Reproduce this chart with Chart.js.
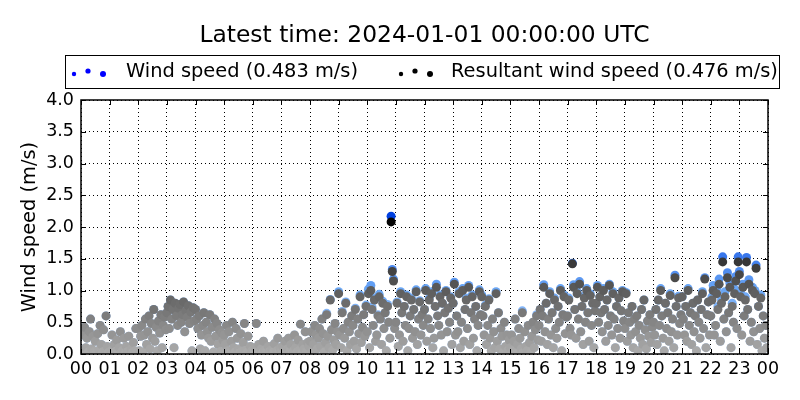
<!DOCTYPE html>
<html>
<head>
<meta charset="utf-8">
<script src="https://cdn.jsdelivr.net/npm/chart.js@4/dist/chart.umd.min.js"></script>
<style>
  html, body { margin: 0; padding: 0; background: #fff; }
  canvas { display: block; }
</style>
</head>
<body>
<canvas id="chart" width="800" height="400"></canvas>
<script>
// ---- DATA ----
var TITLE_TEXT = "Latest time: 2024-01-01 00:00:00 UTC";
var SERIES_NAMES = ["Wind speed", "Resultant wind speed"];
var SERIES_MEANS = [0.483, 0.476];
var HOUR_LABELS = ["00","01","02","03","04","05","06","07","08","09","10","11",
                   "12","13","14","15","16","17","18","19","20","21","22","23","00"];
var Y_LABEL = "Wind speed (m/s)";

// one row per hour, readings every 2.5 minutes (m/s)
var RESULTANT = [
  [0.05,0.30,0.02,0.42,0.10,0.25,0.03,0.35,0.55,0.08,0.28,0.04,0.20,0.02,0.32,0.06,0.45,0.15,0.03,0.38,0.05,0.60,0.12,0.02],
  [0.03,0.05,0.30,0.02,0.15,0.04,0.22,0.02,0.10,0.35,0.03,0.06,0.25,0.02,0.12,0.04,0.28,0.03,0.08,0.02,0.18,0.05,0.40,0.03],
  [0.40,0.05,0.28,0.45,0.03,0.30,0.55,0.15,0.35,0.60,0.08,0.48,0.25,0.70,0.20,0.42,0.05,0.52,0.33,0.62,0.10,0.45,0.58,0.38],
  [0.65,0.75,0.40,0.85,0.55,0.70,0.10,0.80,0.60,0.45,0.72,0.78,0.50,0.62,0.82,0.35,0.68,0.58,0.76,0.48,0.66,0.05,0.73,0.52],
  [0.70,0.55,0.40,0.60,0.08,0.30,0.45,0.65,0.05,0.50,0.35,0.25,0.62,0.20,0.42,0.03,0.55,0.28,0.48,0.15,0.38,0.04,0.33,0.22],
  [0.30,0.15,0.45,0.05,0.35,0.02,0.20,0.50,0.10,0.03,0.40,0.25,0.08,0.02,0.32,0.04,0.18,0.48,0.06,0.02,0.28,0.03,0.12,0.05],
  [0.05,0.02,0.10,0.48,0.04,0.15,0.03,0.08,0.02,0.20,0.06,0.03,0.02,0.12,0.04,0.02,0.07,0.03,0.16,0.02,0.05,0.25,0.03,0.09],
  [0.05,0.12,0.02,0.20,0.03,0.08,0.25,0.04,0.15,0.02,0.05,0.30,0.10,0.03,0.22,0.06,0.47,0.02,0.15,0.08,0.35,0.04,0.18,0.12],
  [0.20,0.35,0.05,0.15,0.45,0.30,0.08,0.25,0.40,0.12,0.55,0.32,0.03,0.18,0.62,0.28,0.10,0.85,0.38,0.06,0.22,0.48,0.15,0.35],
  [0.95,0.30,0.10,0.65,0.40,0.25,0.80,0.05,0.50,0.35,0.15,0.60,0.45,0.20,0.70,0.08,0.55,0.32,0.90,0.18,0.42,0.62,0.28,0.75],
  [0.35,0.95,0.10,1.00,0.70,0.45,0.85,0.20,0.30,0.60,0.90,0.55,0.15,0.80,0.40,0.65,0.05,0.75,0.50,0.25,2.08,1.30,1.15,0.40],
  [0.50,0.80,0.12,0.30,0.95,0.65,0.20,0.75,0.45,0.90,0.05,0.40,0.60,0.85,0.25,0.70,0.35,0.98,0.15,0.55,0.82,0.30,0.62,0.45],
  [0.70,1.00,0.20,0.55,0.85,0.40,0.95,0.10,0.25,0.75,1.05,0.60,0.45,0.90,0.30,0.80,0.05,0.65,0.98,0.35,0.72,0.50,0.88,0.15],
  [0.80,1.10,0.30,0.60,0.35,0.95,0.10,0.50,1.00,0.20,0.70,0.85,0.40,1.05,0.15,0.65,0.90,0.25,0.55,0.75,0.05,0.45,0.98,0.62],
  [0.90,0.60,0.30,0.75,0.15,0.45,0.85,0.25,0.05,0.55,0.35,0.10,0.95,0.20,0.65,0.08,0.40,0.28,0.03,0.50,0.12,0.30,0.06,0.22],
  [0.10,0.30,0.05,0.20,0.55,0.02,0.15,0.40,0.25,0.08,0.65,0.03,0.35,0.12,0.05,0.45,0.18,0.02,0.28,0.50,0.10,0.38,0.60,0.22],
  [0.45,0.70,0.20,0.60,1.05,0.35,0.80,0.15,0.55,0.95,0.30,0.65,0.10,0.85,0.40,0.25,0.75,0.50,1.00,0.05,0.62,0.90,0.32,0.58],
  [0.60,0.85,0.40,0.30,1.42,1.05,0.70,0.25,0.95,0.55,1.10,0.35,0.75,0.15,0.88,0.50,1.00,0.65,0.20,0.92,0.45,0.80,0.10,0.68],
  [0.80,1.05,0.50,0.90,0.65,0.35,1.00,0.70,0.20,0.85,0.45,1.08,0.60,0.30,0.95,0.55,0.10,0.75,0.40,0.88,0.25,0.68,0.98,0.52],
  [0.40,0.95,0.20,0.65,0.50,0.30,0.75,0.10,0.55,0.35,0.60,0.05,0.45,0.25,0.70,0.15,0.85,0.38,0.08,0.52,0.28,0.62,0.18,0.42],
  [0.50,0.30,0.70,0.15,0.85,0.45,1.00,0.60,0.25,0.05,0.80,0.40,0.65,0.20,0.92,0.35,0.55,0.10,1.20,0.75,0.30,0.88,0.48,0.62],
  [0.90,0.55,0.30,0.75,0.20,1.00,0.45,0.65,0.15,0.80,0.35,0.60,0.05,0.85,0.50,0.25,0.70,0.95,0.40,1.18,0.10,0.62,0.82,0.30],
  [0.60,0.85,1.00,0.30,0.45,0.95,0.70,1.10,0.20,0.80,1.45,0.55,0.90,0.35,1.20,0.65,1.05,0.10,0.75,0.50,0.95,1.15,0.40,1.45],
  [1.25,0.90,0.30,1.05,0.60,0.85,1.45,0.70,1.10,0.20,0.50,1.00,0.35,0.95,1.35,0.15,0.75,0.40,0.88,0.05,0.60,0.25,0.45,0.10]
];

var WIND = [
  [0.05,0.30,0.02,0.42,0.10,0.25,0.03,0.35,0.55,0.08,0.28,0.04,0.20,0.02,0.32,0.06,0.45,0.15,0.03,0.38,0.05,0.60,0.12,0.02],
  [0.03,0.05,0.30,0.02,0.15,0.04,0.22,0.02,0.10,0.35,0.03,0.06,0.25,0.02,0.12,0.04,0.28,0.03,0.08,0.02,0.18,0.05,0.40,0.03],
  [0.40,0.05,0.28,0.45,0.03,0.30,0.55,0.15,0.35,0.60,0.08,0.48,0.25,0.70,0.20,0.42,0.05,0.52,0.33,0.62,0.10,0.45,0.58,0.38],
  [0.65,0.75,0.40,0.85,0.55,0.70,0.10,0.80,0.60,0.45,0.72,0.78,0.50,0.62,0.82,0.35,0.68,0.58,0.76,0.48,0.66,0.05,0.73,0.52],
  [0.70,0.55,0.40,0.60,0.08,0.30,0.45,0.65,0.05,0.50,0.35,0.25,0.62,0.20,0.42,0.03,0.55,0.28,0.48,0.15,0.38,0.04,0.33,0.22],
  [0.30,0.15,0.45,0.05,0.35,0.02,0.20,0.50,0.10,0.03,0.40,0.25,0.08,0.02,0.32,0.04,0.18,0.48,0.06,0.02,0.28,0.03,0.12,0.05],
  [0.05,0.02,0.10,0.48,0.04,0.15,0.03,0.08,0.02,0.20,0.06,0.03,0.02,0.12,0.04,0.02,0.07,0.03,0.16,0.02,0.05,0.25,0.03,0.09],
  [0.05,0.12,0.02,0.20,0.03,0.08,0.25,0.04,0.15,0.02,0.05,0.30,0.10,0.03,0.22,0.06,0.47,0.02,0.15,0.08,0.35,0.04,0.18,0.12],
  [0.20,0.35,0.05,0.15,0.45,0.30,0.08,0.25,0.40,0.12,0.55,0.32,0.03,0.18,0.64,0.28,0.10,0.86,0.38,0.06,0.22,0.48,0.15,0.35],
  [0.98,0.30,0.10,0.67,0.40,0.25,0.82,0.05,0.50,0.35,0.15,0.60,0.45,0.20,0.72,0.08,0.55,0.32,0.93,0.18,0.42,0.62,0.28,0.77],
  [0.35,1.02,0.10,1.08,0.74,0.45,0.88,0.20,0.30,0.62,0.94,0.55,0.15,0.83,0.40,0.65,0.05,0.78,0.50,0.25,2.17,1.33,1.18,0.40],
  [0.50,0.82,0.12,0.30,0.98,0.65,0.20,0.75,0.45,0.93,0.05,0.40,0.60,0.88,0.25,0.70,0.35,1.01,0.15,0.55,0.84,0.30,0.62,0.45],
  [0.70,1.03,0.20,0.55,0.88,0.40,0.98,0.10,0.25,0.75,1.10,0.60,0.45,0.93,0.30,0.80,0.05,0.65,1.00,0.35,0.72,0.50,0.90,0.15],
  [0.80,1.13,0.30,0.60,0.35,0.98,0.10,0.50,1.03,0.20,0.70,0.88,0.40,1.08,0.15,0.65,0.93,0.25,0.55,0.75,0.05,0.45,1.01,0.62],
  [0.93,0.60,0.30,0.77,0.15,0.45,0.87,0.25,0.05,0.55,0.35,0.10,0.98,0.20,0.65,0.08,0.40,0.28,0.03,0.50,0.12,0.30,0.06,0.22],
  [0.10,0.30,0.05,0.20,0.55,0.02,0.15,0.40,0.25,0.08,0.68,0.03,0.35,0.12,0.05,0.45,0.18,0.02,0.28,0.50,0.10,0.38,0.62,0.22],
  [0.45,0.70,0.20,0.60,1.09,0.35,0.80,0.15,0.55,0.98,0.30,0.65,0.10,0.88,0.40,0.25,0.75,0.50,1.03,0.05,0.62,0.93,0.32,0.58],
  [0.60,0.88,0.40,0.30,1.43,1.09,0.70,0.25,0.98,0.55,1.14,0.35,0.75,0.15,0.91,0.50,1.03,0.65,0.20,0.95,0.45,0.80,0.10,0.68],
  [0.80,1.08,0.50,0.90,0.65,0.35,1.03,0.70,0.20,0.85,0.45,1.10,0.60,0.30,0.98,0.55,0.10,0.75,0.40,0.88,0.25,0.68,1.00,0.52],
  [0.40,0.97,0.20,0.65,0.50,0.30,0.75,0.10,0.55,0.35,0.60,0.05,0.45,0.25,0.70,0.15,0.85,0.38,0.08,0.52,0.28,0.62,0.18,0.42],
  [0.50,0.30,0.70,0.15,0.85,0.45,1.03,0.60,0.25,0.05,0.80,0.40,0.65,0.20,0.95,0.35,0.55,0.10,1.24,0.75,0.30,0.91,0.48,0.62],
  [0.90,0.55,0.30,0.75,0.20,1.03,0.45,0.65,0.15,0.80,0.35,0.60,0.05,0.85,0.50,0.25,0.70,0.98,0.40,1.20,0.10,0.62,0.82,0.30],
  [0.60,0.90,1.08,0.30,0.45,1.03,0.75,1.18,0.20,0.85,1.53,0.55,0.98,0.35,1.28,0.65,1.12,0.10,0.80,0.50,1.02,1.22,0.40,1.53],
  [1.30,0.96,0.30,1.10,0.60,0.90,1.52,0.70,1.17,0.20,0.50,1.05,0.35,1.00,1.40,0.15,0.75,0.40,0.93,0.05,0.60,0.25,0.45,0.10]
];

// ---- HELPERS ----
function toPoints(rows) {
  var pts = [];
  rows.forEach(function(row, h) {
    row.forEach(function(v, j) {
      pts.push({ x: h + j / row.length, y: v });
    });
  });
  return pts;
}

function shade(v) { return Math.min(1, 0.32 + 0.32 * v); }

function greyFor(v) {
  var g = Math.round(255 * (1 - shade(v)));
  return "rgb(" + g + "," + g + "," + g + ")";
}

// white -> light blue -> deep blue as the value grows
var LIGHT_BLUE = [106, 166, 245];
var DEEP_BLUE  = [0, 64, 224];
function blueFor(v) {
  var t = shade(v), from, to, k;
  if (t < 0.64) { from = [255, 255, 255]; to = LIGHT_BLUE; k = t / 0.64; }
  else          { from = LIGHT_BLUE;      to = DEEP_BLUE;  k = (t - 0.64) / 0.36; }
  var c = from.map(function(f, i) { return Math.round(f + (to[i] - f) * k); });
  return "rgb(" + c.join(",") + ")";
}

var FONT = "'DejaVu Sans', sans-serif";

// ---- MATPLOTLIB-LIKE DECORATIONS ----
var decorPlugin = {
  id: "decor",
  afterDraw: function(chart) {
    var ctx = chart.ctx, a = chart.chartArea;
    var sx = chart.scales.x, sy = chart.scales.y;
    ctx.save();

    // inward ticks on all four sides
    ctx.strokeStyle = "#000";
    ctx.lineWidth = 1;
    ctx.beginPath();
    sx.ticks.forEach(function(t) {
      var px = Math.round(sx.getPixelForValue(t.value)) + 0.5;
      ctx.moveTo(px, a.bottom); ctx.lineTo(px, a.bottom - 5);
      ctx.moveTo(px, a.top);    ctx.lineTo(px, a.top + 5);
    });
    sy.ticks.forEach(function(t) {
      var py = Math.round(sy.getPixelForValue(t.value)) + 0.5;
      ctx.moveTo(a.left, py);  ctx.lineTo(a.left + 5, py);
      ctx.moveTo(a.right, py); ctx.lineTo(a.right - 5, py);
    });
    ctx.stroke();

    // frame
    ctx.lineWidth = 1.5;
    ctx.strokeRect(a.left, a.top, a.right - a.left, a.bottom - a.top);

    // title
    ctx.fillStyle = "#000";
    ctx.font = "23.4px " + FONT;
    ctx.textAlign = "center";
    ctx.textBaseline = "alphabetic";
    ctx.fillText(TITLE_TEXT, (a.left + a.right) / 2, 42);

    // legend box
    ctx.lineWidth = 1;
    ctx.strokeRect(65.5, 55.5, 714, 33);
    var items = [
      { x: 72,  tx: 126, color: "#0000ff", text: SERIES_NAMES[0] + " (" + SERIES_MEANS[0].toFixed(3) + " m/s)" },
      { x: 399, tx: 451, color: "#000000", text: SERIES_NAMES[1] + " (" + SERIES_MEANS[1].toFixed(3) + " m/s)" }
    ];
    ctx.font = "19.4px " + FONT;
    ctx.textAlign = "left";
    ctx.textBaseline = "middle";
    items.forEach(function(it) {
      ctx.fillStyle = it.color;
      [[2, 74, 2.2], [16, 71, 2.6], [31, 74, 3]].forEach(function(d) {
        ctx.beginPath();
        ctx.arc(it.x + d[0], d[1], d[2], 0, Math.PI * 2);
        ctx.fill();
      });
      ctx.fillStyle = "#000";
      ctx.fillText(it.text, it.tx, 72);
    });

    // y axis title
    ctx.save();
    ctx.translate(30, (a.top + a.bottom) / 2);
    ctx.rotate(-Math.PI / 2);
    ctx.textAlign = "center";
    ctx.textBaseline = "middle";
    ctx.fillText(Y_LABEL, 0, 0);
    ctx.restore();

    ctx.restore();
  }
};

// ---- CHART ----
new Chart(document.getElementById("chart"), {
  type: "scatter",
  data: {
    datasets: [
      {
        label: SERIES_NAMES[1],
        data: toPoints(RESULTANT),
        order: 0,
        clip: 0,
        pointRadius: 4.5,
        pointBorderWidth: 0,
        pointBackgroundColor: function(c) { return greyFor(c.parsed ? c.parsed.y : 0); }
      },
      {
        label: SERIES_NAMES[0],
        data: toPoints(WIND),
        order: 1,
        clip: 0,
        pointRadius: 4.5,
        pointBorderWidth: 0,
        pointBackgroundColor: function(c) { return blueFor(c.parsed ? c.parsed.y : 0); }
      }
    ]
  },
  options: {
    responsive: false,
    animation: false,
    layout: { padding: { top: 100, right: 32, left: 0, bottom: 0 } },
    plugins: { legend: { display: false }, tooltip: { enabled: false } },
    scales: {
      x: {
        type: "linear",
        min: 0, max: 24,
        afterFit: function(s) { s.height = 46; },
        border: { display: false, dash: [1, 3] },
        grid: { color: "#000", lineWidth: 1, drawTicks: false },
        ticks: {
          stepSize: 1, autoSkip: false, maxRotation: 0, padding: 5,
          color: "#000", font: { family: FONT, size: 17.5 },
          callback: function(v) { return HOUR_LABELS[v]; }
        }
      },
      y: {
        min: 0, max: 4,
        afterFit: function(s) { s.width = 81; },
        border: { display: false, dash: [1, 3] },
        grid: { color: "#000", lineWidth: 1, drawTicks: false },
        ticks: {
          stepSize: 0.5, padding: 7,
          color: "#000", font: { family: FONT, size: 17.5 },
          callback: function(v) { return v.toFixed(1); }
        }
      }
    }
  },
  plugins: [decorPlugin]
});
</script>
</body>
</html>
